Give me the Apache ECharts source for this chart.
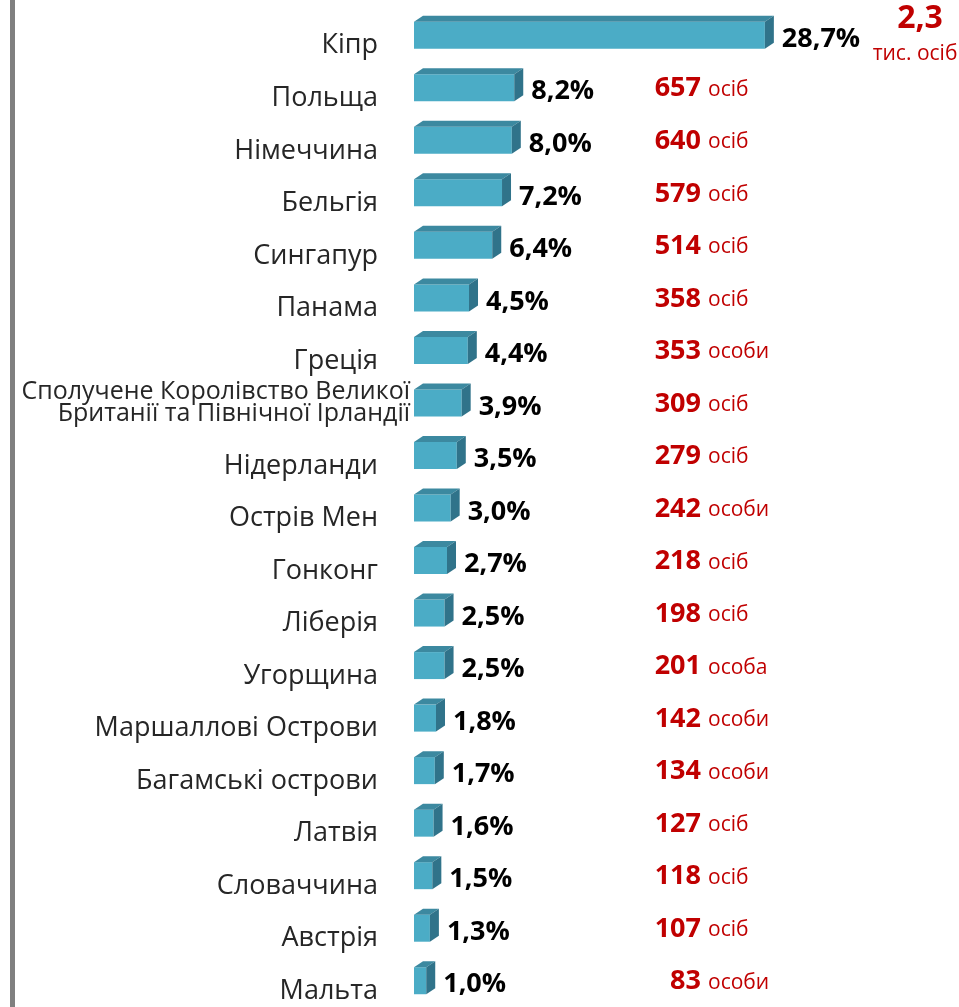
<html>
<head>
    <meta charset="utf-8">
    <title>Країни</title>
    <script src="https://cdn.jsdelivr.net/npm/echarts@6/dist/echarts.min.js"></script>
    <style>
        html, body { margin: 0; padding: 0; background: #fff; }
    </style>
</head>
<body>
    <div style="height: 1007px; width: 959px;" id="main"></div>
    <script type="text/javascript">
    // дані
    var countries = ['Кіпр', 'Польща', 'Німеччина', 'Бельгія', 'Сингапур', 'Панама', 'Греція',
        'Сполучене Королівство Великої\nБританії та Північної Ірландії', 'Нідерланди', 'Острів Мен',
        'Гонконг', 'Ліберія', 'Угорщина', 'Маршаллові Острови', 'Багамські острови', 'Латвія',
        'Словаччина', 'Австрія', 'Мальта'];
    var shares = [28.7, 8.2, 8.0, 7.2, 6.4, 4.5, 4.4, 3.9, 3.5, 3.0, 2.7, 2.5, 2.5, 1.8, 1.7, 1.6, 1.5, 1.3, 1.0];
    var counts = ['2,3', '657', '640', '579', '514', '358', '353', '309', '279', '242', '218', '198', '201',
        '142', '134', '127', '118', '107', '83'];
    var units = ['тис. осіб', 'осіб', 'осіб', 'осіб', 'осіб', 'осіб', 'особи', 'осіб', 'осіб', 'особи',
        'осіб', 'осіб', 'особа', 'особи', 'особи', 'осіб', 'осіб', 'осіб', 'особи'];

    var FONT = '"Open Sans", "Noto Sans", sans-serif';
    var myChart = echarts.init(document.getElementById('main'));

    function fmtPct(v) {
        return v.toFixed(1).replace('.', ',') + '%';
    }

    // 3D-стовпчик з підписами
    function renderItem(params, api) {
        var i = params.dataIndex;
        var v = api.value(0);
        var p0 = api.coord([0, i]);
        var p1 = api.coord([v, i]);
        var h = 27, dx = 9, dy = 6;
        var x0 = p0[0], x1 = p1[0];
        var yT = p0[1] - h / 2, yB = yT + h;
        var yc = p0[1];
        var kids = [
            { type: 'rect', shape: { x: x0, y: yT, width: x1 - x0, height: h }, style: { fill: '#4BACC6' } },
            { type: 'polygon', shape: { points: [[x0, yT], [x0 + dx, yT - dy], [x1 + dx, yT - dy], [x1, yT]] }, style: { fill: '#3C89A0' } },
            { type: 'polygon', shape: { points: [[x1, yT], [x1 + dx, yT - dy], [x1 + dx, yB - dy], [x1, yB]] }, style: { fill: '#30738A' } },
            { type: 'text', style: { x: x1 + dx + 8, y: yc + 4, text: fmtPct(v), fill: '#000',
                font: 'bold 27px ' + FONT, textAlign: 'left', textVerticalAlign: 'middle' } }
        ];
        if (units[i].indexOf('тис.') === 0) {
            kids.push({ type: 'text', style: { x: 920, y: yc - 16, text: counts[i], fill: '#C00000',
                font: 'bold 32px ' + FONT, textAlign: 'center', textVerticalAlign: 'middle' } });
            kids.push({ type: 'text', style: { x: 915, y: yc + 19, text: units[i], fill: '#C00000',
                font: '21px ' + FONT, textAlign: 'center', textVerticalAlign: 'middle' } });
        } else {
            kids.push({ type: 'text', style: { x: 701, y: yc + 1, text: counts[i], fill: '#C00000',
                font: 'bold 27px ' + FONT, textAlign: 'right', textVerticalAlign: 'middle' } });
            kids.push({ type: 'text', style: { x: 708, y: yc + 2, text: units[i], fill: '#C00000',
                font: '21px ' + FONT, textAlign: 'left', textVerticalAlign: 'middle' } });
        }
        return { type: 'group', children: kids };
    }

    var option = {
        animation: false,
        grid: { left: 414, top: 9, width: 489, height: 1006 },
        xAxis: {
            type: 'value', min: 0, max: 40, show: false
        },
        yAxis: {
            type: 'category',
            inverse: true,
            data: countries,
            axisLine: { show: false },
            axisTick: { show: false },
            splitLine: { show: false },
            axisLabel: {
                margin: 4,
                formatter: function (val) {
                    if (val.indexOf('\n') > -1) {
                        return val.split('\n').map(function (s) { return '{b|' + s + '}'; }).join('\n');
                    }
                    return '{a|' + val + '}';
                },
                rich: {
                    a: { fontFamily: FONT, fontSize: 27, color: '#262626', padding: [21, 32, 0, 0] },
                    b: { fontFamily: FONT, fontSize: 25, color: '#262626', lineHeight: 22 }
                }
            }
        },
        graphic: [
            { type: 'rect', left: 10, top: 0, shape: { width: 5, height: 1007 }, style: { fill: '#808080' } }
        ],
        series: [{
            type: 'custom',
            renderItem: renderItem,
            encode: { x: 0, y: 1 },
            data: shares.map(function (s, i) { return [s, i]; }),
            clip: false
        }]
    };

    myChart.setOption(option);
    </script>
</body>
</html>
